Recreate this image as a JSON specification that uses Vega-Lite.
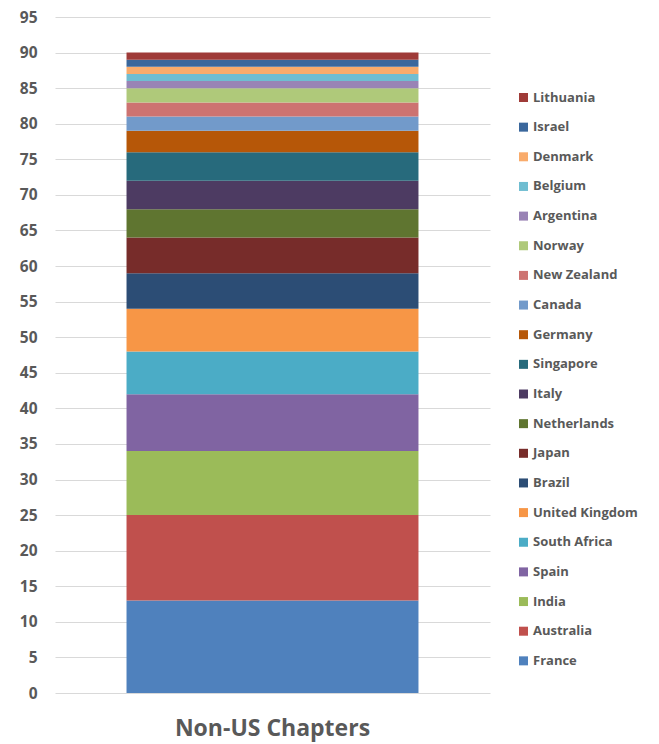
{
  "$schema": "https://vega.github.io/schema/vega-lite/v6.json",
  "autosize": "none",
  "width": 435,
  "height": 676,
  "padding": {"left": 55, "top": 17, "right": 169, "bottom": 51},
  "background": "white",
  "config": {
    "view": {"stroke": null},
    "font": "Open Sans"
  },
  "data": {
    "values": [
      {"chapter": "Non-US Chapters", "country": "France", "count": 13, "rank": 1},
      {"chapter": "Non-US Chapters", "country": "Australia", "count": 12, "rank": 2},
      {"chapter": "Non-US Chapters", "country": "India", "count": 9, "rank": 3},
      {"chapter": "Non-US Chapters", "country": "Spain", "count": 8, "rank": 4},
      {"chapter": "Non-US Chapters", "country": "South Africa", "count": 6, "rank": 5},
      {"chapter": "Non-US Chapters", "country": "United Kingdom", "count": 6, "rank": 6},
      {"chapter": "Non-US Chapters", "country": "Brazil", "count": 5, "rank": 7},
      {"chapter": "Non-US Chapters", "country": "Japan", "count": 5, "rank": 8},
      {"chapter": "Non-US Chapters", "country": "Netherlands", "count": 4, "rank": 9},
      {"chapter": "Non-US Chapters", "country": "Italy", "count": 4, "rank": 10},
      {"chapter": "Non-US Chapters", "country": "Singapore", "count": 4, "rank": 11},
      {"chapter": "Non-US Chapters", "country": "Germany", "count": 3, "rank": 12},
      {"chapter": "Non-US Chapters", "country": "Canada", "count": 2, "rank": 13},
      {"chapter": "Non-US Chapters", "country": "New Zealand", "count": 2, "rank": 14},
      {"chapter": "Non-US Chapters", "country": "Norway", "count": 2, "rank": 15},
      {"chapter": "Non-US Chapters", "country": "Argentina", "count": 1, "rank": 16},
      {"chapter": "Non-US Chapters", "country": "Belgium", "count": 1, "rank": 17},
      {"chapter": "Non-US Chapters", "country": "Denmark", "count": 1, "rank": 18},
      {"chapter": "Non-US Chapters", "country": "Israel", "count": 1, "rank": 19},
      {"chapter": "Non-US Chapters", "country": "Lithuania", "count": 1, "rank": 20}
    ]
  },
  "mark": {"type": "bar"},
  "encoding": {
    "x": {
      "field": "chapter",
      "type": "nominal",
      "scale": {"paddingInner": 0, "paddingOuter": 0.245},
      "axis": {
        "title": null,
        "labelAngle": 0,
        "domain": false,
        "ticks": false,
        "grid": false,
        "labelFontSize": 23,
        "labelFontWeight": "bold",
        "labelColor": "#595959",
        "labelPadding": 24,
        "labelLimit": 500
      }
    },
    "y": {
      "field": "count",
      "type": "quantitative",
      "stack": "zero",
      "scale": {"domain": [0, 95], "nice": false},
      "axis": {
        "title": null,
        "values": [0, 5, 10, 15, 20, 25, 30, 35, 40, 45, 50, 55, 60, 65, 70, 75, 80, 85, 90, 95],
        "domain": false,
        "ticks": false,
        "grid": true,
        "gridColor": "#D9D9D9",
        "gridWidth": 1,
        "labelFontSize": 15.5,
        "labelFontWeight": "bold",
        "labelColor": "#595959",
        "labelPadding": 18
      }
    },
    "order": {"field": "rank", "type": "quantitative", "sort": "ascending"},
    "color": {
      "field": "country",
      "type": "nominal",
      "scale": {
        "domain": ["Lithuania", "Israel", "Denmark", "Belgium", "Argentina", "Norway", "New Zealand", "Canada", "Germany", "Singapore", "Italy", "Netherlands", "Japan", "Brazil", "United Kingdom", "South Africa", "Spain", "India", "Australia", "France"],
        "range": ["#9F3B38", "#3A679C", "#F9AB6B", "#6FBDD1", "#9983B5", "#AFC97A", "#CD7371", "#729ACA", "#B65708", "#276A7C", "#4D3B62", "#5F7530", "#772C2A", "#2C4D75", "#F79646", "#4BACC6", "#8064A2", "#9BBB59", "#C0504D", "#4F81BD"]
      },
      "legend": {
        "title": null,
        "orient": "none",
        "legendX": 462,
        "legendY": 74,
        "symbolType": "square",
        "symbolSize": 81,
        "symbolStrokeWidth": 0,
        "labelFontSize": 13,
        "labelFontWeight": "bold",
        "labelColor": "#595959",
        "labelOffset": 3,
        "rowPadding": 15.65
      }
    }
  }
}
